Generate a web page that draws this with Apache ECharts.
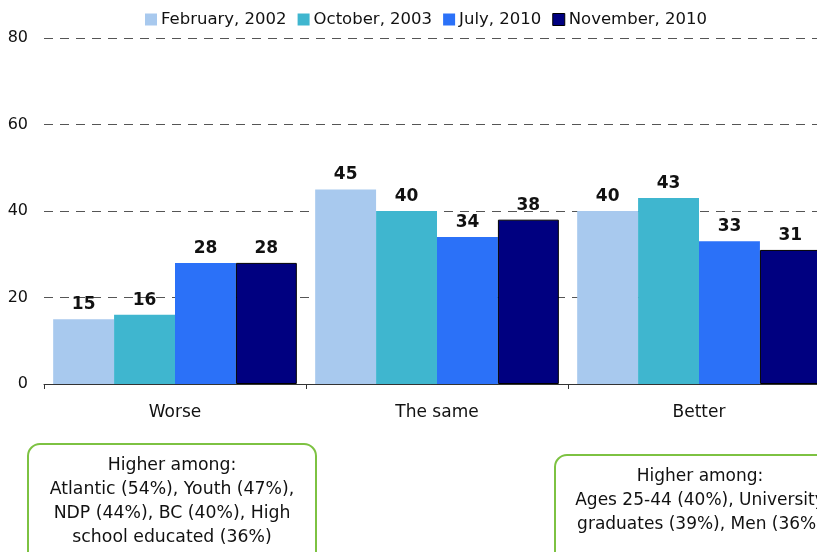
<!DOCTYPE html>
<html><head><meta charset="utf-8">
<script src="https://cdn.jsdelivr.net/npm/echarts@6/dist/echarts.min.js"></script>
<style>html,body{margin:0;padding:0;background:#fff}#c{width:817px;height:552px}</style>
</head><body><div id="c"></div>
<script>
const categories = ['Worse', 'The same', 'Better'];
const seriesNames = ['February, 2002', 'October, 2003', 'July, 2010', 'November, 2010'];
const feb2002 = [15, 45, 40];
const oct2003 = [16, 40, 43];
const jul2010 = [28, 34, 33];
const nov2010 = [28, 38, 31];
const yTicks = [0, 20, 40, 60, 80];
const noteLeft = ['Higher among:', 'Atlantic (54%), Youth (47%),', 'NDP (44%), BC (40%), High', 'school educated (36%)'];
const noteRight = ['Higher among:', 'Ages 25-44 (40%), University', 'graduates (39%), Men (36%)'];

const colors = ['#A8C9EE', '#3FB6CF', '#2B71F8', '#000080'];
const font = '"DejaVu Sans", sans-serif';
const chart = echarts.init(document.getElementById('c'));
const values = [feb2002, oct2003, jul2010, nov2010];
chart.setOption({
  animation: false,
  textStyle: { fontFamily: font },
  legend: {
    top: 6, left: 140, itemWidth: 12, itemHeight: 12, itemGap: 11,
    icon: 'rect',
    textStyle: { fontSize: 16.5, color: '#111', fontFamily: font, padding: [0, 0, 0, -1] },
    data: seriesNames.map((n, i) => ({ name: n, itemStyle: i === 3 ? { borderColor: '#000', borderWidth: 1 } : {} }))
  },
  grid: { left: 44, width: 786, top: 38, bottom: 168, containLabel: false, outerBoundsMode: 'none' },
  xAxis: {
    type: 'category', data: categories,
    axisLine: { lineStyle: { color: '#333', width: 1 } },
    axisTick: { show: true, length: 5, lineStyle: { color: '#333' } },
    axisLabel: { fontSize: 17, color: '#111', margin: 20, fontFamily: font }
  },
  yAxis: {
    type: 'value', min: yTicks[0], max: yTicks[yTicks.length - 1], interval: 20,
    axisLine: { show: false }, axisTick: { show: false },
    axisLabel: { fontSize: 16, color: '#111', margin: 16, fontFamily: font },
    splitLine: { lineStyle: { color: '#555', type: [9, 7], width: 1 } }
  },
  series: values.map((v, i) => ({
    name: seriesNames[i], type: 'bar', data: v,
    barGap: '0%', barCategoryGap: '7%',
    itemStyle: i === 3 ? { color: colors[i], borderColor: '#000', borderWidth: 1 } : { color: colors[i] },
    label: { show: true, position: 'top', distance: 6, fontSize: 17, fontWeight: 'bold', color: '#111', fontFamily: font }
  })),
  graphic: [
    { type: 'rect', shape: { x: 28, y: 444, width: 288, height: 120, r: 12 },
      style: { fill: '#fff', stroke: '#7DC242', lineWidth: 2 } },
    { type: 'text', x: 172, y: 454, style: { text: noteLeft.join('\n'), align: 'center', verticalAlign: 'top', fill: '#111', font: '17.3px ' + font, lineHeight: 24 } },
    { type: 'rect', shape: { x: 555, y: 455, width: 300, height: 120, r: 12 },
      style: { fill: '#fff', stroke: '#7DC242', lineWidth: 2 } },
    { type: 'text', x: 700, y: 465, style: { text: noteRight.join('\n'), align: 'center', verticalAlign: 'top', fill: '#111', font: '17px ' + font, lineHeight: 24 } }
  ]
});
</script></body></html>
